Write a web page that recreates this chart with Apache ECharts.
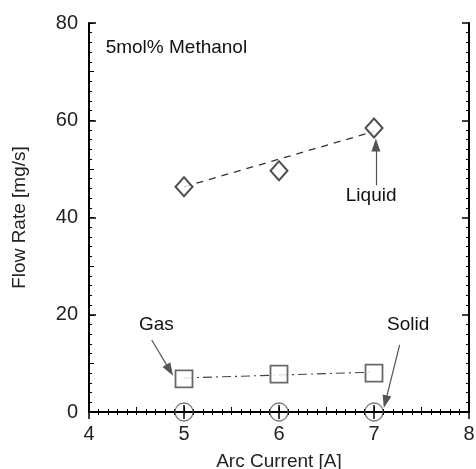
<!DOCTYPE html>
<html>
<head>
<meta charset="utf-8">
<script src="https://cdn.jsdelivr.net/npm/echarts@6/dist/echarts.min.js"></script>
<style>
  html, body { margin: 0; padding: 0; background: #fff; }
  #chart { width: 476px; height: 469px; }
</style>
</head>
<body>
<div id="chart"></div>
<script>
// measured points
var current = [5, 6, 7];
var liquid = [46.3, 49.6, 58.4];
var gas = [6.8, 7.8, 8.0];
var solid = [0, 0, 0];
// fitted lines
var fitX = [5, 7];
var liquidFit = [46.3, 57.7];
var gasFit = [7.0, 8.2];

var font = 'Liberation Sans, Arial, sans-serif';
var ink = '#222';

function pairs(xs, ys) {
  return xs.map(function (x, i) { return [x, ys[i]]; });
}

function arrow(from, to) {
  return [{ coord: from }, { coord: to }];
}

var chart = echarts.init(document.getElementById('chart'));

var xBase = { type: 'value', min: 4, max: 8, gridIndex: 0 };
var yBase = { type: 'value', min: 0, max: 80, gridIndex: 0 };

chart.setOption({
  animation: false,
  grid: { left: 89, right: 7, top: 23, bottom: 57, outerBoundsMode: 'none', containLabel: false },
  xAxis: [
    Object.assign({}, xBase, {
      position: 'bottom', interval: 1,
      name: 'Arc Current [A]', nameLocation: 'middle', nameGap: 40,
      nameTextStyle: { color: ink, fontSize: 19, fontFamily: font },
      axisLine: { lineStyle: { color: '#000', width: 2 } },
      axisTick: { inside: true, length: 7, lineStyle: { color: '#000', width: 1.5 } },
      minorTick: { show: true, splitNumber: 10, length: 3, lineStyle: { color: '#000' } },
      axisLabel: { color: ink, fontSize: 20, fontFamily: font, margin: 12 },
      splitLine: { show: false }
    }),
    Object.assign({}, xBase, {
      position: 'bottom', interval: 0.5,
      axisLine: { show: false },
      axisTick: { inside: true, length: 5, lineStyle: { color: '#000' } },
      axisLabel: { show: false }, splitLine: { show: false }
    }),
    Object.assign({}, xBase, {
      position: 'top', interval: 1,
      axisLine: { lineStyle: { color: '#000', width: 2 } },
      axisTick: { inside: true, length: 7, lineStyle: { color: '#000', width: 1.5 } },
      minorTick: { show: true, splitNumber: 10, length: 3, lineStyle: { color: '#000' } },
      axisLabel: { show: false }, splitLine: { show: false }
    })
  ],
  yAxis: [
    Object.assign({}, yBase, {
      position: 'left', interval: 20,
      name: 'Flow Rate [mg/s]', nameLocation: 'middle', nameGap: 60, nameRotate: 90,
      nameTextStyle: { color: ink, fontSize: 19, fontFamily: font },
      axisLine: { show: true, lineStyle: { color: '#000', width: 2 } },
      axisTick: { show: true, inside: true, length: 7, lineStyle: { color: '#000', width: 1.5 } },
      minorTick: { show: true, splitNumber: 10, length: 3, lineStyle: { color: '#000' } },
      axisLabel: { color: ink, fontSize: 20, fontFamily: font, margin: 11 },
      splitLine: { show: false }
    }),
    Object.assign({}, yBase, {
      position: 'left', interval: 10,
      axisLine: { show: false },
      axisTick: { show: true, inside: true, length: 5, lineStyle: { color: '#000' } },
      axisLabel: { show: false }, splitLine: { show: false }
    }),
    Object.assign({}, yBase, {
      position: 'right', interval: 20,
      axisLine: { show: true, lineStyle: { color: '#000', width: 2 } },
      axisTick: { show: true, inside: true, length: 7, lineStyle: { color: '#000', width: 1.5 } },
      minorTick: { show: true, splitNumber: 10, length: 3, lineStyle: { color: '#000' } },
      axisLabel: { show: false }, splitLine: { show: false }
    })
  ],
  series: [
    {
      name: 'Liquid fit', type: 'line', data: pairs(fitX, liquidFit),
      symbol: 'none', z: 2,
      lineStyle: { color: '#333', width: 1.3, type: [7, 6] },
      markLine: {
        silent: true, symbol: ['none', 'triangle'], symbolSize: [9, 13],
        lineStyle: { color: '#555', width: 1.2, type: 'solid' },
        itemStyle: { color: '#111' },
        label: { show: false },
        data: [
          arrow([7.02, 46.6], [7.02, 54.9]),
          arrow([4.66, 14.8], [4.85, 8.6]),
          arrow([7.27, 13.8], [7.12, 2.1])
        ]
      },
      markPoint: {
        silent: true, symbol: 'rect', symbolSize: 1,
        itemStyle: { color: 'transparent' },
        label: { show: true, color: '#111', fontSize: 19, fontFamily: font, formatter: '{b}' },
        data: [
          { name: 'Liquid', coord: [6.97, 44.4] },
          { name: 'Gas', coord: [4.71, 18.0] },
          { name: 'Solid', coord: [7.36, 17.9] },
          { name: '5mol% Methanol', coord: [4.92, 74.9] }
        ]
      }
    },
    {
      name: 'Gas fit', type: 'line', data: pairs(fitX, gasFit),
      symbol: 'none', z: 2,
      lineStyle: { color: '#444', width: 1.1, type: [9, 4, 2, 4] }
    },
    {
      name: 'Liquid', type: 'scatter', data: pairs(current, liquid),
      symbol: 'diamond', symbolSize: [17, 19], z: 3,
      itemStyle: { color: '#fff', borderColor: '#222', borderWidth: 2 }
    },
    {
      name: 'Gas', type: 'scatter', data: pairs(current, gas),
      symbol: 'rect', symbolSize: 17, z: 3,
      itemStyle: { color: '#fff', borderColor: '#444', borderWidth: 1.8 }
    },
    {
      name: 'Solid', type: 'scatter', data: pairs(current, solid),
      symbol: 'circle', symbolSize: 18, z: 3,
      itemStyle: { color: 'rgba(0,0,0,0)', borderColor: '#555', borderWidth: 1.3 }
    }
  ]
});
</script>
</body>
</html>
